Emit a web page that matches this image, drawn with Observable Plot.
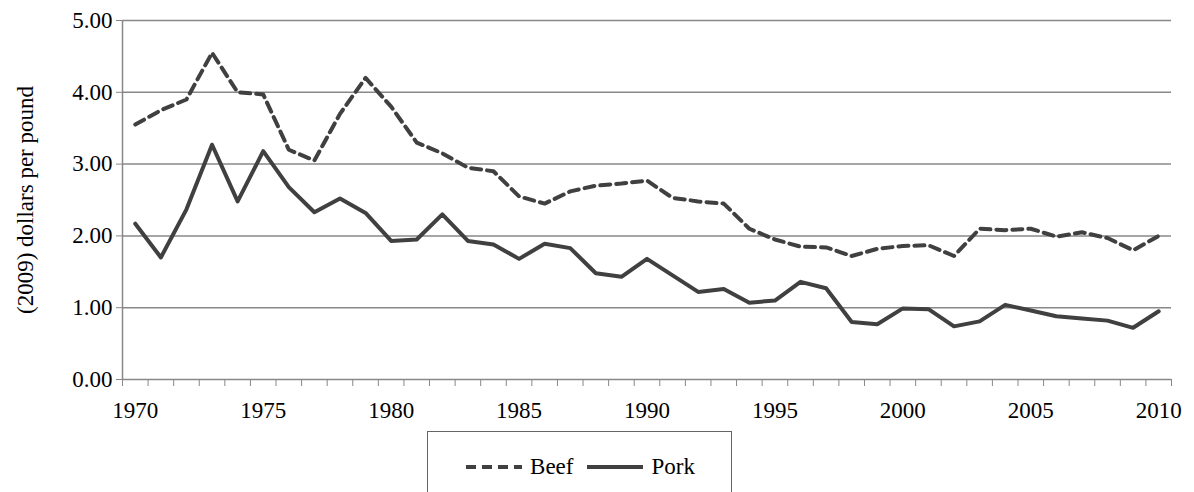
<!DOCTYPE html>
<html><head><meta charset="utf-8">
<script src="https://cdn.jsdelivr.net/npm/d3@7"></script>
<script src="https://cdn.jsdelivr.net/npm/@observablehq/plot@0.6"></script>
<style>
body{margin:0;background:#fff;font-family:"Times New Roman","Liberation Serif","DejaVu Serif",serif;}
#chart svg text{font-family:"Times New Roman","Liberation Serif","DejaVu Serif",serif !important;font-size:23px !important;fill:#000;}
#legend{position:absolute;left:427px;top:431px;width:305px;height:70px;border:1px solid #666;box-sizing:border-box;display:flex;align-items:flex-start;justify-content:center;padding-top:22px;font-size:23px;gap:12px;}
.it{display:flex;align-items:center;gap:6px;}
</style></head><body>
<div id="chart"></div>
<div id="legend">
<div class="it"><svg width="60" height="10"><line x1="2" x2="58" y1="5" y2="5" stroke="#404040" stroke-width="4" stroke-dasharray="10,6"/></svg>Beef</div>
<div class="it"><svg width="60" height="10"><line x1="2" x2="58" y1="5" y2="5" stroke="#404040" stroke-width="4"/></svg>Pork</div>
</div>
<script>
const years = d3.range(1970, 2011);
const beef = [3.55,3.75,3.9,4.55,4.0,3.97,3.2,3.05,3.7,4.2,3.8,3.3,3.15,2.95,2.9,2.55,2.45,2.62,2.7,2.73,2.77,2.53,2.48,2.45,2.1,1.95,1.85,1.84,1.72,1.82,1.86,1.87,1.72,2.1,2.08,2.1,1.99,2.05,1.97,1.8,2.0];
const pork = [2.17,1.7,2.37,3.27,2.48,3.18,2.68,2.33,2.52,2.32,1.93,1.95,2.3,1.93,1.88,1.68,1.89,1.83,1.48,1.43,1.68,1.45,1.22,1.26,1.07,1.1,1.36,1.27,0.8,0.77,0.99,0.98,0.74,0.81,1.04,0.96,0.88,0.85,0.82,0.72,0.95];
const yTicks = [0,1,2,3,4,5];
const xLabels = [1970,1975,1980,1985,1990,1995,2000,2005,2010];
const bData = years.map((y,i)=>({year:y,v:beef[i]}));
const pData = years.map((y,i)=>({year:y,v:pork[i]}));
const chart = Plot.plot({
  width:1194, height:428,
  marginLeft:122, marginRight:23, marginTop:20, marginBottom:49,
  x:{domain:[1969.5,2010.5]},
  y:{domain:[0,5]},
  marks:[
    Plot.gridY(yTicks,{stroke:"#888",strokeOpacity:1,strokeWidth:1.5}),
    Plot.ruleX([1969.5],{stroke:"#888",strokeWidth:1.5}),
    Plot.axisY({ticks:yTicks,tickFormat:d=>d.toFixed(2),tickSize:6,stroke:"#888",tickPadding:4,label:"(2009) dollars per pound",labelAnchor:"center",labelArrow:"none",labelOffset:106}),
    Plot.axisX({ticks:d3.range(1969.5,2011,1),tickFormat:()=>"",tickSize:7,stroke:"#888",label:null}),
    Plot.axisX({ticks:xLabels,tickFormat:d=>String(d),tickSize:0,tickPadding:22,label:null}),
    Plot.line(bData,{x:"year",y:"v",stroke:"#404040",strokeWidth:4,strokeDasharray:"10,6"}),
    Plot.line(pData,{x:"year",y:"v",stroke:"#404040",strokeWidth:4})
  ]
});
document.getElementById("chart").append(chart);
</script></body></html>
